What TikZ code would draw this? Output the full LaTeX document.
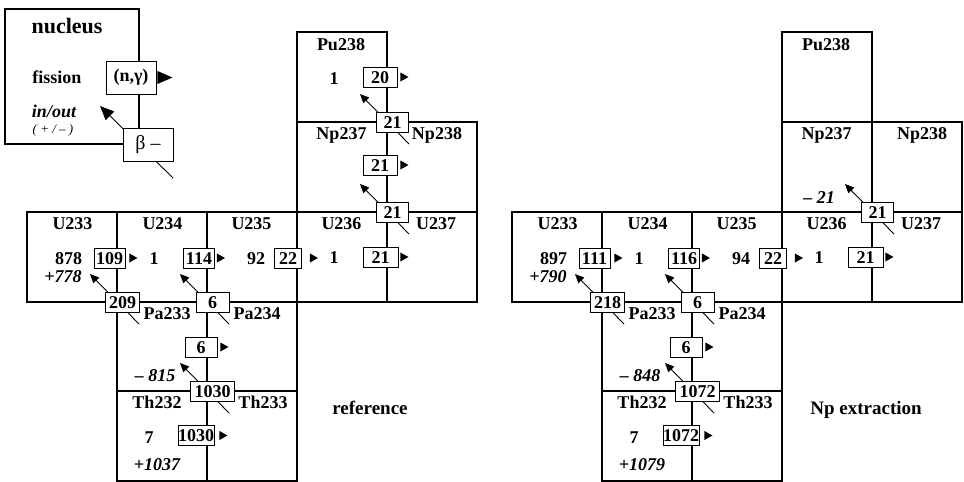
\documentclass[tikz,border=0pt]{standalone}
\usepackage{fontspec}
\setmainfont{Liberation Serif}
\usetikzlibrary{arrows.meta,calc}
\tikzset{
  cell/.style={line width=2pt},
  tx/.style={inner sep=0pt, text height=12pt, text depth=0pt, font=\fontsize{18}{20}\selectfont\bfseries},
  itx/.style={tx, font=\fontsize{18}{20}\selectfont\bfseries\itshape},
  rbox/.style={draw, fill=white, line width=0.9pt, inner sep=0pt, minimum height=20pt,
    text height=12pt, text depth=0pt, font=\fontsize{18}{20}\selectfont\bfseries},
  barrow/.style={line width=0.9pt, -{Triangle[length=9pt,width=8pt]}},
}
% beta decay box at a cell corner: name, x, y, text, width
\newcommand\bdec[5]{%
  \coordinate (#1-t) at ($(#2,#3)+(22,22)$);
  \coordinate (#1-h) at ($(#2,#3)+(-27,-28)$);
  \draw[barrow] (#1-t) -- (#1-h);
  \node[rbox, minimum width=#5pt] (#1) at ($(#2,#3)+(5.5,0)$) {#4};
}
% (n,gamma) box with triangle: name, x, y, text, width, gap
\newcommand\ngam[6]{%
  \node[rbox, minimum width=#5pt] (#1) at (#2,#3) {#4};
  \fill ($(#1.east)+(#6,-4.5)$) -- ++(8,4.5) -- ++(-8,4.5) -- cycle;
}
\newcommand\cellgrid{%
  \draw[cell] (297,32) rectangle (387,122);
  \draw[cell] (297,122) rectangle (387,212);
  \draw[cell] (387,122) rectangle (477,212);
  \foreach \xx in {27,117,207,297,387} \draw[cell] (\xx,212) rectangle ++(90,90);
  \draw[cell] (117,302) rectangle (207,391);
  \draw[cell] (207,302) rectangle (297,391);
  \draw[cell] (117,391) rectangle (207,481);
  \draw[cell] (207,391) rectangle (297,481);
}
\begin{document}
\begin{tikzpicture}[x=1pt,y=-1pt]
\useasboundingbox (0,0) rectangle (964,482);
% ---------------- legend
\draw[cell] (5,9) rectangle (139,144);
\node[inner sep=0pt, anchor=base, font=\fontsize{22}{24}\selectfont\bfseries] (nuc) at (67,33) {nucleus};
\node[inner sep=0pt, anchor=base, font=\fontsize{18}{20}\selectfont\bfseries] (fis) at (57,83) {fission};
\node[inner sep=0pt, anchor=base, font=\fontsize{18}{20}\selectfont\bfseries\itshape] (inout) at (54,117) {in/out};
\node[inner sep=0pt, anchor=base, font=\fontsize{13}{14}\selectfont\itshape] (pm) at (53,133) {( + / – )};
\coordinate (legt) at (173,178);
\coordinate (legh) at (100,106);
\draw[line width=0.9pt, -{Triangle[length=14pt,width=12pt]}] (legt) -- (legh);
\node[draw, fill=white, line width=0.9pt, minimum width=50pt, minimum height=33pt, inner sep=0pt,
  font=\fontsize{18}{20}\selectfont\bfseries] (legn) at (131,77.5) {(n,γ)};
\fill ($(legn.east)+(1,-6.5)$) -- ++(15,6.5) -- ++(-15,6.5) -- cycle;
\node[draw, fill=white, line width=0.9pt, minimum width=50pt, minimum height=33pt, inner sep=0pt,
  font=\fontsize{20}{22}\selectfont] (legb) at (148,144.5) {β –};
% ---------------- reference
\begin{scope}
\cellgrid
\node[tx] (LPu238) at (341,44) {Pu238};
\node[tx] (LPu1) at (334,78) {1};
\node[tx] (LNp237) at (341.5,133) {Np237};
\node[tx] (LNp238) at (437,133) {Np238};
\node[tx] (LU233) at (72.5,223) {U233};
\node[tx] (LU234) at (162.5,223) {U234};
\node[tx] (LU235) at (251.5,223) {U235};
\node[tx] (LU236) at (341.5,223) {U236};
\node[tx] (LU237) at (436,223) {U237};
\node[tx] (Ln878) at (68.5,258) {878};
\node[itx] (Ln778) at (63,276) {+778};
\node[tx] (Ln1a) at (154,258) {1};
\node[tx] (Ln92) at (256,258) {92};
\node[tx] (Ln1b) at (334,257) {1};
\node[tx] (LPa233) at (167,313) {Pa233};
\node[tx] (LPa234) at (257,313) {Pa234};
\node[itx] (Ln815) at (155,375) {– 815};
\node[tx] (LTh232) at (157,402) {Th232};
\node[tx] (LTh233) at (263,402) {Th233};
\node[tx] (Ln7) at (149,437) {7};
\node[itx] (Ln1037) at (157,464) {+1037};
\bdec{Lb1}{387}{122}{21}{32}
\bdec{Lb2}{387}{212}{21}{32}
\bdec{Lb3}{117}{302}{209}{34}
\bdec{Lb4}{207}{302}{6}{33}
\bdec{Lb5}{207}{391}{1030}{44}
\ngam{Lg1}{380}{77}{20}{34}{3}
\ngam{Lg2}{380}{165}{21}{34}{3}
\ngam{Lg3}{109.5}{258}{109}{31}{4}
\ngam{Lg4}{199}{258}{114}{31}{2}
\ngam{Lg5}{288}{258}{22}{27}{8}
\ngam{Lg6}{380.5}{257}{21}{35}{2}
\ngam{Lg7}{201}{347}{6}{32}{3}
\ngam{Lg8}{196}{435.5}{1030}{36}{5}
\end{scope}
\node[tx, font=\fontsize{19}{21}\selectfont\bfseries] (refl) at (370,408) {reference};
% ---------------- Np extraction
\begin{scope}[xshift=485pt]
\cellgrid
\node[tx] (RPu238) at (341,44) {Pu238};
\node[tx] (RNp237) at (341.5,133) {Np237};
\node[tx] (RNp238) at (437,133) {Np238};
\node[itx] (Rn21) at (334,197) {– 21};
\node[tx] (RU233) at (72.5,223) {U233};
\node[tx] (RU234) at (162.5,223) {U234};
\node[tx] (RU235) at (251.5,223) {U235};
\node[tx] (RU236) at (341.5,223) {U236};
\node[tx] (RU237) at (436,223) {U237};
\node[tx] (Rn897) at (68.5,258) {897};
\node[itx] (Rn790) at (63,276) {+790};
\node[tx] (Rn1a) at (154,258) {1};
\node[tx] (Rn94) at (256,258) {94};
\node[tx] (Rn1b) at (334,257) {1};
\node[tx] (RPa233) at (167,313) {Pa233};
\node[tx] (RPa234) at (257,313) {Pa234};
\node[itx] (Rn848) at (155,375) {– 848};
\node[tx] (RTh232) at (157,402) {Th232};
\node[tx] (RTh233) at (263,402) {Th233};
\node[tx] (Rn7) at (149,437) {7};
\node[itx] (Rn1079) at (157,464) {+1079};
\bdec{Rb2}{387}{212}{21}{32}
\bdec{Rb3}{117}{302}{218}{34}
\bdec{Rb4}{207}{302}{6}{33}
\bdec{Rb5}{207}{391}{1072}{44}
\ngam{Rg3}{109.5}{258}{111}{31}{4}
\ngam{Rg4}{199}{258}{116}{31}{2}
\ngam{Rg5}{288}{258}{22}{27}{8}
\ngam{Rg6}{380.5}{257}{21}{35}{2}
\ngam{Rg7}{201}{347}{6}{32}{3}
\ngam{Rg8}{196}{435.5}{1072}{36}{5}
\end{scope}
\node[tx, font=\fontsize{19}{21}\selectfont\bfseries] (npl) at (866,408) {Np extraction};
\end{tikzpicture}
\end{document}
